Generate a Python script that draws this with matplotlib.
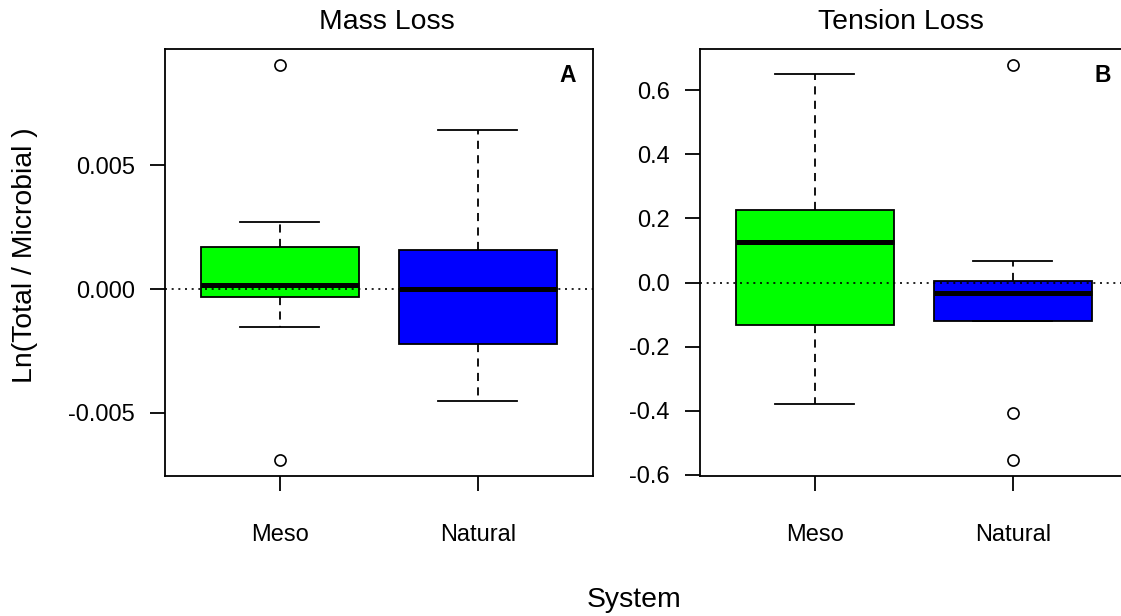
import matplotlib.pyplot as plt

plt.rcParams['font.family'] = ['Liberation Sans', 'DejaVu Sans']
plt.rcParams['axes.unicode_minus'] = False

systems = ['Meso', 'Natural']
box_colors = ['#00ff00', '#0000ff']

# Mass loss: ln(total / microbial) summary per system
mass_med = [0.00015, 0.00002]
mass_q1 = [-0.0003, -0.0022]
mass_q3 = [0.00172, 0.00158]
mass_lo = [-0.00151, -0.00451]
mass_hi = [0.00272, 0.00645]
mass_out = [[0.00907, -0.0069], []]

# Tension loss
tens_med = [0.125, -0.033]
tens_q1 = [-0.134, -0.120]
tens_q3 = [0.227, 0.005]
tens_lo = [-0.378, -0.120]
tens_hi = [0.651, 0.067]
tens_out = [[], [0.680, -0.406, -0.554]]

mass_ticks = [-0.005, 0.0, 0.005]
mass_ticklabels = ['-0.005', '0.000', '0.005']
tens_ticks = [-0.6, -0.4, -0.2, 0.0, 0.2, 0.4, 0.6]
tens_ticklabels = ['-0.6', '-0.4', '-0.2', '0.0', '0.2', '0.4', '0.6']

FS = 17          # tick labels
FS_BIG = 20.4    # titles and axis labels (cex 1.2)
LW = 1.3


def make_stats(med, q1, q3, lo, hi, out):
    stats = []
    for i in range(len(med)):
        stats.append(dict(med=med[i], q1=q1[i], q3=q3[i],
                          whislo=lo[i], whishi=hi[i], fliers=out[i]))
    return stats


def draw_panel(ax, stats, ticks, ticklabels, title, title_x, letter):
    bp = ax.bxp(stats, positions=[1, 2], widths=0.8, capwidths=0.4,
                patch_artist=True, showfliers=True,
                boxprops=dict(linewidth=LW, edgecolor='black'),
                medianprops=dict(color='black', linewidth=3.6,
                                 solid_capstyle='butt'),
                whiskerprops=dict(color='black', linewidth=LW,
                                  linestyle=(0, (4.5, 3.5))),
                capprops=dict(color='black', linewidth=LW),
                flierprops=dict(marker='o', markersize=8,
                                markerfacecolor='none',
                                markeredgecolor='black',
                                markeredgewidth=1.2))
    for patch, c in zip(bp['boxes'], box_colors):
        patch.set_facecolor(c)
    ax.axhline(0, color='black', linewidth=1.2,
               linestyle=(0, (1.2, 2.8)), zorder=3)

    # R-style 4% padding around the data range
    vals = []
    for s in stats:
        vals += [s['whislo'], s['whishi']] + list(s['fliers'])
    lo, hi = min(vals), max(vals)
    pad = (hi - lo) * 0.04
    ax.set_ylim(lo - pad, hi + pad)
    ax.set_xlim(0.42, 2.58)

    ax.set_yticks(ticks)
    ax.set_yticklabels(ticklabels)
    ax.set_xticks([1, 2])
    ax.set_xticklabels(systems)
    ax.tick_params(axis='y', length=10.8, width=LW, pad=10.8,
                   labelsize=FS)
    ax.tick_params(axis='x', length=10.8, width=LW, pad=24,
                   labelsize=FS)
    for sp in ax.spines.values():
        sp.set_linewidth(LW)

    ax.text(title_x, 1.047, title, transform=ax.transAxes,
            ha='center', va='baseline', fontsize=FS_BIG)
    ax.text(0.942, 0.937, letter, transform=ax.transAxes,
            ha='center', va='center', fontsize=16.5, fontweight='bold')


fig = plt.figure(figsize=(11.21, 6.16), dpi=100)
ax_a = fig.add_axes([165 / 1121, 140.3 / 616, 427.7 / 1121, 426.7 / 616])
ax_b = fig.add_axes([700 / 1121, 140.3 / 616, 427.7 / 1121, 426.7 / 616])

draw_panel(ax_a, make_stats(mass_med, mass_q1, mass_q3, mass_lo, mass_hi,
                            mass_out),
           mass_ticks, mass_ticklabels, 'Mass Loss', 0.518, 'A')
draw_panel(ax_b, make_stats(tens_med, tens_q1, tens_q3, tens_lo, tens_hi,
                            tens_out),
           tens_ticks, tens_ticklabels, 'Tension Loss', 0.469, 'B')

fig.text(25.5 / 1121, 1 - 255 / 616, 'Ln(Total / Microbial )', rotation=90,
         ha='center', va='center', fontsize=FS_BIG)
fig.text(634.5 / 1121, 1 - 607 / 616, 'System', ha='center', va='baseline',
         fontsize=FS_BIG)

fig.savefig('out.png', dpi=100)
